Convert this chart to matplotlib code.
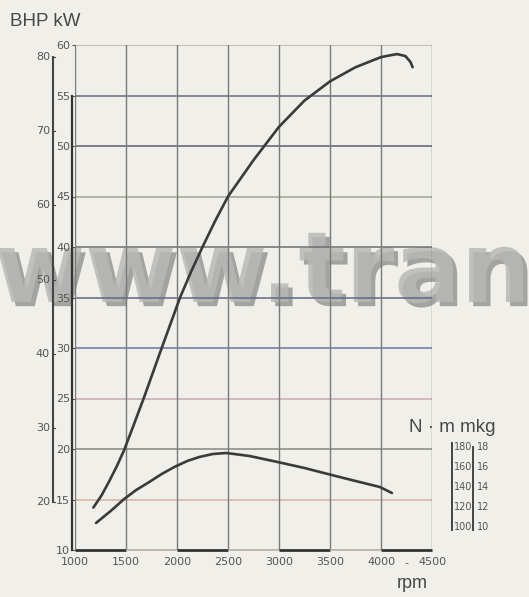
import matplotlib
matplotlib.use("Agg")
import matplotlib.pyplot as plt
import matplotlib.transforms as mtransforms
import matplotlib.patheffects as pe

NARROW = ["DejaVu Sans"]
SANS = ["Liberation Sans", "DejaVu Sans"]
BG = "#f0efe9"
INK = "#3a3a3a"
LBL = "#555555"

# ── data ─────────────────────────────────────────────────────────
rpm_ticks = [1000, 1500, 2000, 2500, 3000, 3500, 4000, 4500]
kw_ticks = [10, 15, 20, 25, 30, 35, 40, 45, 50, 55, 60]
ps_ticks = [20, 30, 40, 50, 60, 70, 80]
nm_ticks = [100, 120, 140, 160, 180]
mkg_ticks = [10, 12, 14, 16, 18]

power_rpm = [1180, 1260, 1335, 1410, 1482, 1580, 1680, 1765, 1850, 1940, 2030,
             2140, 2250, 2375, 2500, 2750, 3000, 3250, 3500, 3750, 4000, 4100,
             4160, 4240, 4290, 4310]
power_kw = [14.2, 15.4, 16.8, 18.3, 19.9, 22.5, 25.2, 27.6, 30.0, 32.5, 35.0,
            37.6, 40.0, 42.6, 45.0, 48.6, 51.9, 54.5, 56.4, 57.8, 58.8, 59.0,
            59.1, 58.9, 58.3, 57.8]

torque_rpm = [1206, 1350, 1482, 1600, 1728, 1850, 1974, 2100, 2219, 2350, 2484,
              2711, 2986, 3250, 3478, 3750, 3989, 4107]
torque_nm = [104, 116, 128, 137, 145, 153, 160, 166, 170, 173, 174,
             171, 165, 159, 153, 146, 140, 134]

PS_TO_KW = 0.7355

fig = plt.figure(figsize=(5.29, 5.97), dpi=100, facecolor=BG)
ax = fig.add_axes([75/529, 1-550/597, (432-75)/529, (550-45)/597])
ax.set_facecolor(BG)
ax.set_xlim(1000, 4500)
ax.set_ylim(10, 60)
for s in ax.spines.values():
    s.set_visible(False)

# grid, slightly tinted like the scan
h_colors = {60: "#b9ada6", 55: "#66687e", 50: "#5c5e72", 45: "#98aa90", 40: "#6e6e72",
            35: "#5e6886", 30: "#6a78a0", 25: "#c8aab2", 20: "#85887e", 15: "#d2b2a2"}
for k, c in h_colors.items():
    ax.axhline(k, color=c, lw=1.1, zorder=2)
for r in rpm_ticks:
    ax.axvline(r, color="#7a7a7a", lw=1.0, zorder=2)

# axis lines (bottom alternating dark / light)
for i in range(len(rpm_ticks) - 1):
    dark = i % 2 == 0
    ax.plot(rpm_ticks[i:i+2], [10, 10], color="#333333" if dark else "#b8aaa0",
            lw=2.0 if dark else 1.2, solid_capstyle="butt", zorder=3, clip_on=False)
ax.plot([975, 975], [10, 55], color="#333333", lw=1.6, zorder=3, clip_on=False)

# curves
ax.plot(power_rpm, power_kw, color=INK, lw=1.9, zorder=4, solid_capstyle="round")
ax2 = ax.twinx()
ax2.set_ylim(77, 582)
ax2.axis("off")
ax2.plot(torque_rpm, torque_nm, color=INK, lw=1.9, zorder=4, solid_capstyle="round")

# ticks
ax.set_xticks(rpm_ticks)
ax.set_xticklabels([str(r) for r in rpm_ticks], family=NARROW, fontsize=8, color=LBL)
ax.set_yticks(kw_ticks)
ax.set_yticklabels([str(k) for k in kw_ticks], family=NARROW, fontsize=8, color=LBL)
ax.tick_params(axis="x", length=0, pad=5)
ax.tick_params(axis="y", length=2.5, width=0.8, color="#555555", pad=1)
ax.text(4250, 8.7, "-", ha="center", va="center", fontsize=8, color=LBL, family=NARROW)

# PS / BHP scale
tr = mtransforms.blended_transform_factory(ax.transAxes, ax.transData)
ax.plot([-0.062, -0.062], [ps_ticks[0] * PS_TO_KW, ps_ticks[-1] * PS_TO_KW],
        transform=tr, color="#444444", lw=1.5, clip_on=False, zorder=3)
for p in ps_ticks:
    y = p * PS_TO_KW
    ax.plot([-0.062, -0.055], [y, y], transform=tr, color="#444444", lw=0.8, clip_on=False)
    ax.text(-0.07, y, str(p), transform=tr, ha="right", va="center",
            family=NARROW, fontsize=8, color=LBL, zorder=3)

# torque mini scale
tr2 = mtransforms.blended_transform_factory(ax2.transAxes, ax2.transData)
ax2.plot([1.057, 1.057], [97, 184], transform=tr2, color="#444444", lw=1.4, clip_on=False)
ax2.plot([1.115, 1.115], [97, 180], transform=tr2, color="#444444", lw=1.4, clip_on=False)
for n, m in zip(nm_ticks, mkg_ticks):
    ax2.text(1.087, n, str(n), transform=tr2, ha="center", va="center",
             family=NARROW, fontsize=7, color="#555555")
    ax2.text(1.125, n, str(m), transform=tr2, ha="left", va="center",
             family=NARROW, fontsize=7, color="#555555")

# labels
fig.text(10/529, 1-21/597, "BHP kW", ha="left", va="center", fontsize=13.5,
         color="#484848", family=SANS)
fig.text(412/529, 1-584/597, "rpm", ha="center", va="center", fontsize=13,
         color="#484848", family=SANS)
fig.text(409/529, 1-428/597, "N · m mkg", ha="left", va="center", fontsize=13.5,
         color="#484848", family=SANS)

# scan watermark
ax.text(-6/529, 1-302/597, "www.trans", transform=fig.transFigure, ha="left",
        va="baseline", fontsize=71, fontweight="bold", family=NARROW,
        color="#b8b8b6", alpha=0.85, zorder=1.5, clip_on=False,
        path_effects=[pe.withSimplePatchShadow(offset=(3, -3), shadow_rgbFace="#8a8a88", alpha=0.75)])

fig.savefig("out.png", dpi=100, facecolor=BG)
